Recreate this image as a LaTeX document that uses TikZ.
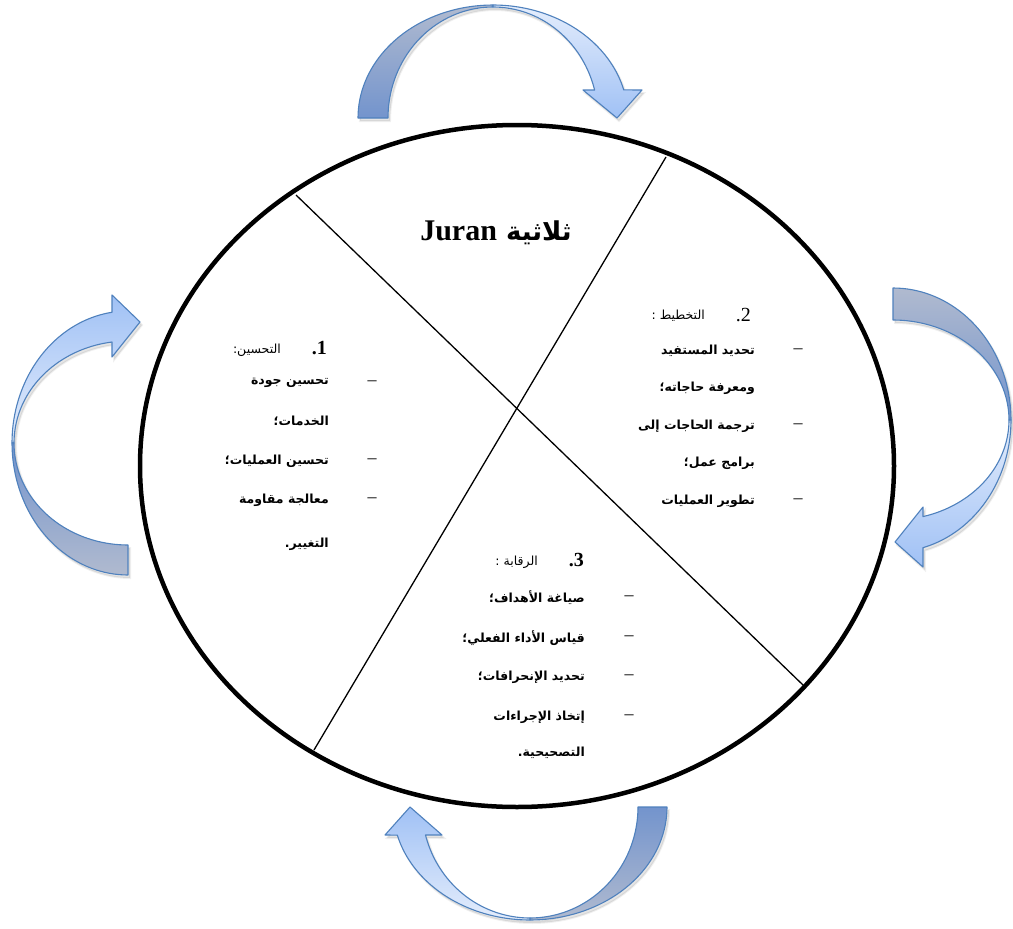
\documentclass[tikz,border=0pt]{standalone}
\usepackage{fontspec}
\setmainfont{Liberation Serif}
\newfontfamily\arabicfont[Script=Arabic]{DejaVu Sans}
\TeXXeTstate=1
\definecolor{arrline}{HTML}{4F81BD}
\definecolor{dkgray}{HTML}{B0BACF}
\definecolor{dkblue}{HTML}{7394CD}
\definecolor{ltpale}{HTML}{E4EDFC}
\definecolor{ltblue}{HTML}{A0C1F5}
\tikzset{
  band/.style={draw=arrline, line width=1.1pt, line join=round},
  shade/.style={fill=black, fill opacity=0.10, draw=black, draw opacity=0.06, line width=2pt, shift={(2,3)}},
  artext/.style={anchor=east, inner sep=0pt, font=\arabicfont\bfseries\fontsize{12.5}{15}\selectfont},
  arhead/.style={anchor=east, inner sep=0pt, font=\arabicfont\fontsize{12.5}{15}\selectfont},
  numtext/.style={anchor=east, inner sep=0pt, font=\fontsize{20}{23}\selectfont},
  dashmark/.style={inner sep=0pt, font=\fontsize{18}{20}\selectfont},
  chord/.style={line width=1.3pt, black},
}
\newcommand\RL[1]{\beginR #1\endR}
\begin{document}
\begin{tikzpicture}[x=1pt,y=-1pt]
\fill[white] (0,0) rectangle (1013,929);
\useasboundingbox (0,0) rectangle (1013,929);

% shadows
\path[shade]
  plot[domain=180:345.6,samples=60] ({493+135*cos(\x)},{118+113*sin(\x)})
  -- (642,90) -- (617,118) -- (583,90)
  -- plot[domain=345.4:180,samples=60] ({493+105*cos(\x)},{118+111*sin(\x)}) -- cycle;
\path[shade]
  plot[domain=-90:75.3,samples=60] ({893+118*cos(\x)},{420+132*sin(\x)})
  -- (923,567) -- (895,542) -- (923,507)
  -- plot[domain=75:-90,samples=60] ({893+116*cos(\x)},{420+100*sin(\x)}) -- cycle;
\path[shade]
  plot[domain=90:262.07,samples=60] ({128+116*cos(\x)},{443+132*sin(\x)})
  -- (112,295) -- (140,322) -- (112,357)
  -- plot[domain=261.93:90,samples=60] ({128+114*cos(\x)},{443+102*sin(\x)}) -- cycle;
\path[shade]
  plot[domain=0:165.6,samples=60] ({530+137*cos(\x)},{807+113*sin(\x)})
  -- (385,835) -- (410,807) -- (442,835)
  -- plot[domain=165.4:0,samples=60] ({530+108*cos(\x)},{807+111*sin(\x)}) -- cycle;

% top arrow
\path[band, top color=dkgray, bottom color=dkblue]
  plot[domain=180:270,samples=40] ({493+135*cos(\x)},{118+113*sin(\x)})
  -- plot[domain=270:180,samples=40] ({493+105*cos(\x)},{118+111*sin(\x)}) -- cycle;
\path[band, top color=ltpale, bottom color=ltblue]
  plot[domain=270:345.6,samples=40] ({493+135*cos(\x)},{118+113*sin(\x)})
  -- (642,90) -- (617,118) -- (583,90)
  -- plot[domain=345.4:270,samples=40] ({493+105*cos(\x)},{118+111*sin(\x)}) -- cycle;

% right arrow
\path[band, top color=dkgray, bottom color=dkblue]
  plot[domain=-90:0,samples=40] ({893+118*cos(\x)},{420+132*sin(\x)})
  -- plot[domain=0:-90,samples=40] ({893+116*cos(\x)},{420+100*sin(\x)}) -- cycle;
\path[band, top color=ltpale, bottom color=ltblue]
  plot[domain=0:75.3,samples=40] ({893+118*cos(\x)},{420+132*sin(\x)})
  -- (923,567) -- (895,542) -- (923,507)
  -- plot[domain=75:0,samples=40] ({893+116*cos(\x)},{420+100*sin(\x)}) -- cycle;

% left arrow
\path[band, top color=ltblue, bottom color=ltpale]
  plot[domain=180:262.07,samples=40] ({128+116*cos(\x)},{443+132*sin(\x)})
  -- (112,295) -- (140,322) -- (112,357)
  -- plot[domain=261.93:180,samples=40] ({128+114*cos(\x)},{443+102*sin(\x)}) -- cycle;
\path[band, top color=dkblue, bottom color=dkgray]
  plot[domain=90:180,samples=40] ({128+116*cos(\x)},{443+132*sin(\x)})
  -- plot[domain=180:90,samples=40] ({128+114*cos(\x)},{443+102*sin(\x)}) -- cycle;

% bottom arrow
\path[band, top color=dkblue, bottom color=dkgray]
  plot[domain=0:90,samples=40] ({530+137*cos(\x)},{807+113*sin(\x)})
  -- plot[domain=90:0,samples=40] ({530+108*cos(\x)},{807+111*sin(\x)}) -- cycle;
\path[band, top color=ltblue, bottom color=ltpale]
  plot[domain=90:165.6,samples=40] ({530+137*cos(\x)},{807+113*sin(\x)})
  -- (385,835) -- (410,807) -- (442,835)
  -- plot[domain=165.4:90,samples=40] ({530+108*cos(\x)},{807+111*sin(\x)}) -- cycle;

% circle
\draw[line width=4.5pt] (517,466) ellipse [x radius=377, y radius=341];
\coordinate (c1a) at (296,195);
\coordinate (c1b) at (803,685);
\coordinate (c2a) at (666,157);
\coordinate (c2b) at (314,750);
\draw[chord] (c1a) -- (c1b);
\draw[chord] (c2a) -- (c2b);

% title
\node[inner sep=0pt] (title) at (496,233)
  {\arabicfont\bfseries\fontsize{26}{29}\selectfont\beginR ثلاثية \beginL{\rmfamily\fontsize{30}{34}\selectfont Juran}\endL\endR};

% section 1
\node[numtext] (n1) at (327,348) {\bfseries\RL{1\kern0pt.}};
\node[arhead] (h1) at (281,350) {\RL{التحسين:}};
\node[dashmark] (d1a) at (372,383) {–};
\node[dashmark] (d1b) at (372,461) {–};
\node[dashmark] (d1c) at (372,500) {–};
\node[artext] (s1a) at (329,383) {\RL{تحسين جودة}};
\node[artext] (s1b) at (329,421) {\RL{الخدمات؛}};
\node[artext] (s1c) at (329,461) {\RL{تحسين العمليات؛}};
\node[artext] (s1d) at (329,500) {\RL{معالجة مقاومة}};
\node[artext] (s1e) at (329,544) {\RL{التغيير.}};

% section 2
\node[numtext] (n2) at (751,315) {\RL{2\kern0pt.}};
\node[arhead] (h2) at (705,316) {\RL{التخطيط :}};
\node[dashmark] (d2a) at (798,351) {–};
\node[dashmark] (d2b) at (798,426) {–};
\node[dashmark] (d2c) at (798,501) {–};
\node[artext] (s2a) at (755,351) {\RL{تحديد المستفيد}};
\node[artext] (s2b) at (755,388) {\RL{ومعرفة حاجاته؛}};
\node[artext] (s2c) at (755,426) {\RL{ترجمة الحاجات إلى}};
\node[artext] (s2d) at (755,463) {\RL{برامج عمل؛}};
\node[artext] (s2e) at (755,501) {\RL{تطوير العمليات}};

% section 3
\node[numtext] (n3) at (584,560) {\bfseries\RL{3\kern0pt.}};
\node[arhead] (h3) at (538,562) {\RL{الرقابة :}};
\node[dashmark] (d3a) at (629,598) {–};
\node[dashmark] (d3b) at (629,638) {–};
\node[dashmark] (d3c) at (629,677) {–};
\node[dashmark] (d3d) at (629,717) {–};
\node[artext] (s3a) at (585,598) {\RL{صياغة الأهداف؛}};
\node[artext] (s3b) at (585,638) {\RL{قياس الأداء الفعلي؛}};
\node[artext] (s3c) at (585,677) {\RL{تحديد الإنحرافات؛}};
\node[artext] (s3d) at (585,717) {\RL{إتخاذ الإجراءات}};
\node[artext] (s3e) at (585,753) {\RL{التصحيحية.}};
\end{tikzpicture}
\end{document}
